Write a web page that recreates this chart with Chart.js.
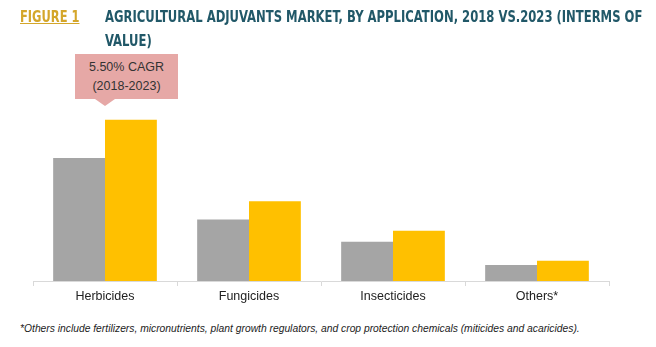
<!DOCTYPE html>
<html>
<head>
<meta charset="utf-8">
<script src="https://cdn.jsdelivr.net/npm/chart.js@4"></script>
<style>
  body { margin: 0; width: 656px; height: 347px; background: #fff; position: relative; overflow: hidden; font-family: "Liberation Sans", Arial, sans-serif; }
  .title { position: absolute; top: 5px; left: 20px; font-family: "DejaVu Sans Condensed", sans-serif; font-weight: bold; font-size: 15px; line-height: 24px; color: #215868; white-space: nowrap; }
  .fig { position: absolute; left: 0; top: 0; color: #D4A62A; text-decoration: underline; transform: scaleX(0.85); transform-origin: left top; }
  .ttl { position: absolute; left: 85px; top: 0; transform: scaleX(0.86); transform-origin: left top; }
  .box { position: absolute; left: 75px; top: 54px; width: 103px; height: 45px; background: #E6A8A6; color: #333; font-size: 12.5px; text-align: center; line-height: 19px; padding-top: 4px; box-sizing: border-box; }
  .box:after { content: ""; position: absolute; left: 20px; top: 45px; border-left: 10px solid transparent; border-right: 10px solid transparent; border-top: 7px solid #E6A8A6; }
  .note { position: absolute; left: 20px; top: 323px; font-size: 10.3px; font-style: italic; color: #222; white-space: nowrap; }
  #wrap { position: absolute; left: 0; top: 0; width: 656px; height: 307px; }
</style>
</head>
<body>
<div id="wrap"><canvas id="myChart"></canvas></div>
<div class="title"><span class="fig">FIGURE 1</span><span class="ttl">AGRICULTURAL ADJUVANTS MARKET, BY APPLICATION, 2018 VS.2023 (INTERMS OF<br>VALUE)</span></div>
<div class="box">5.50% CAGR<br>(2018-2023)</div>
<div class="note">*Others include fertilizers, micronutrients, plant growth regulators, and crop protection chemicals (miticides and acaricides).</div>
<script>
/*---------------------------- data ------------------------------------*/
var xValues = ["Herbicides", "Fungicides", "Insecticides", "Others*"];
var years = ["2018", "2023"];
var values2018 = [1590, 795, 508, 208];
var values2023 = [2084, 1030, 651, 261];
var barColors = ["#A5A5A5", "#FFC000"];

new Chart("myChart", {
  type: "bar",
  data: {
    labels: xValues,
    datasets: [{
      label: years[0],
      data: values2018,
      backgroundColor: barColors[0],
      categoryPercentage: 0.72,
      barPercentage: 1
    }, {
      label: years[1],
      data: values2023,
      backgroundColor: barColors[1],
      categoryPercentage: 0.72,
      barPercentage: 1
    }]
  },
  options: {
    responsive: true,
    maintainAspectRatio: false,
    animation: false,
    layout: { padding: { left: 33, right: 47, top: 100, bottom: 0 } },
    plugins: {
      legend: { display: false },
      tooltip: { enabled: false }
    },
    scales: {
      x: {
        grid: { display: true, drawOnChartArea: false, offset: true, tickLength: 5, color: "#D9D9D9" },
        border: { color: "#D9D9D9" },
        ticks: { color: "#222", font: { family: "Liberation Sans", size: 12.5 }, padding: 3 }
      },
      y: {
        display: false,
        min: 0,
        max: 2340
      }
    }
  }
});
</script>
</body>
</html>
